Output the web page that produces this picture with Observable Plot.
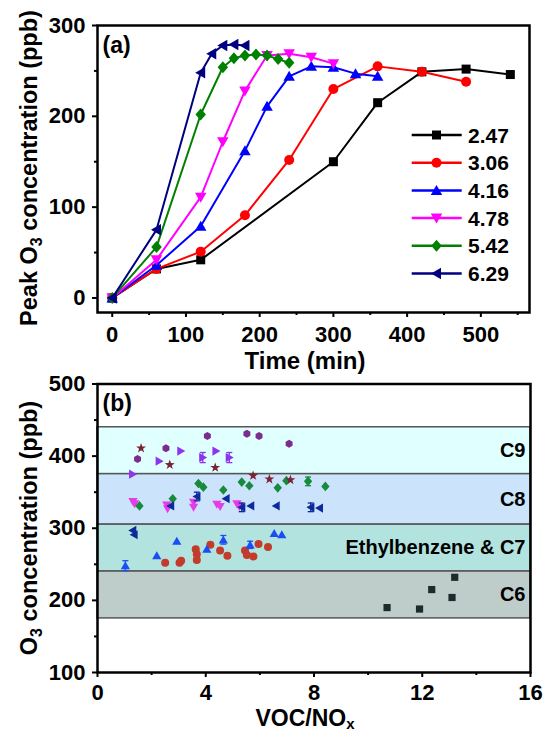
<!DOCTYPE html>
<html><head><meta charset="utf-8">
<script src="https://cdn.jsdelivr.net/npm/d3@7"></script>
<script src="https://cdn.jsdelivr.net/npm/@observablehq/plot@0.6"></script>
<style>
body{margin:0;background:#fff;}
#wrap{position:relative;width:547px;height:733px;overflow:hidden;font-family:'Liberation Sans',Arial,Helvetica,sans-serif;}
#wrap > div{position:absolute;left:0;}
</style></head><body><div id="wrap"><div id="pa" style="top:0"></div><div id="pb" style="top:372px"></div></div>
<script>
// ---------- Panel (a) data ----------
const ratios = ["2.47","3.06","4.16","4.78","5.42","6.29"];
const colorsA = ["#000000","#ff0000","#0000ff","#ff00ff","#008000","#000080"];
const t247 = [0,60,120,300,360,420,480,540];
const o247 = [0,32,42,150,215,249,252,246];
const t306 = [0,60,120,180,240,300,360,420,480];
const o306 = [0,32,51,91,152,230,255,249,238];
const t416 = [0,60,120,180,210,240,270,300,330,360];
const o416 = [0,36,79,162,211,244,255,254,247,244];
const t478 = [0,60,120,150,180,210,240,270,300];
const o478 = [0,42,111,172,228,267,269,265,258];
const t542 = [0,60,120,150,165,180,195,210,225,240];
const o542 = [0,56,202,254,264,267,268,267,263,259];
const t629 = [0,60,120,135,150,165,180];
const o629 = [0,75,248,269,278,279,278];
const xTicksA = [0,100,200,300,400,500];
const xMinorA = [50,150,250,350,450,550];
const yTicksA = [0,100,200,300];
const yMinorA = [50,150,250];

// ---------- Panel (b) data ----------
const bandLabels = ["C9","C8","Ethylbenzene & C7","C6"];
const bandLo = [375,305,240,175];
const bandHi = [440,375,305,240];
const bandColors = ["#e0ffff","#cbe3fb","#b3e3df","#bfcdca"];

const sqX = [10.7,11.9,12.35,13.1,13.2];
const sqY = [190,188,215,204,232];
const ciX = [2.5,3.03,3.09,3.63,3.67,3.67,4.17,4.53,4.8,5.45,5.52,5.76,5.95,6.3];
const ciY = [252,252,255,271,264,256,277,269,262,269,263,261,278,274];
const upX = [1.03,2.19,2.93,4.04,4.65,5.64,6.53,6.81];
const upY = [248,262,282,271,284,277,293,291];
const upE = [7,0,0,0,6,5,0,0];
const ltX = [1.3,1.35,2.7,3.67,4.75,5.33,5.66,6.6,7.88,8.2];
const ltY = [297,291,331,344,341,329,331,331,329,328];
const ltE = [0,0,0,6,0,6,0,0,6,0];
const dnX = [1.31,1.37,2.56,2.59,3.55,3.55,4.41,4.53,5.15,5.24];
const dnY = [337,334,332,327,336,329,333,330,334,330];
const diX = [1.55,2.78,3.73,3.91,4.65,5.33,5.61,6.66,6.98,7.78,8.42];
const diY = [331,341,362,357,353,364,359,356,366,365,358];
const diE = [0,0,0,0,0,0,0,0,0,6,0];
const stX = [1.61,2.67,4.35,5.75,6.35,7.13];
const stY = [411,388,384,373,368,367];
const hxX = [1.48,2.53,4.06,5.52,5.97,7.08];
const hxY = [396,411,428,431,428,417];
const rtX = [1.3,2.28,3.08,3.89,4.38,4.87];
const rtY = [375,393,407,398,407,398];
const rtE = [0,0,0,7,0,7];
const xTicksB = [0,4,8,12,16];
const xMinorB = [2,6,10,14];
const yTicksB = [100,200,300,400,500];
const yMinorB = [150,250,350,450];

// ---------- custom symbols ----------
function mk(fn){ return {draw(ctx, size){ const r = Math.sqrt(size/Math.PI); fn(ctx, r); }}; }
const symSquare = mk((c,r)=>{const s=0.9*r; c.rect(-s,-s,2*s,2*s);});
const symCircle = mk((c,r)=>{c.moveTo(r,0); c.arc(0,0,r,0,2*Math.PI);});
const symUp = mk((c,r)=>{c.moveTo(0,-1.1*r); c.lineTo(1.15*r,0.9*r); c.lineTo(-1.15*r,0.9*r); c.closePath();});
const symDown = mk((c,r)=>{c.moveTo(0,1.1*r); c.lineTo(1.15*r,-0.9*r); c.lineTo(-1.15*r,-0.9*r); c.closePath();});
const symLeft = mk((c,r)=>{c.moveTo(-1.1*r,0); c.lineTo(0.9*r,-1.15*r); c.lineTo(0.9*r,1.15*r); c.closePath();});
const symRight = mk((c,r)=>{c.moveTo(1.1*r,0); c.lineTo(-0.9*r,-1.15*r); c.lineTo(-0.9*r,1.15*r); c.closePath();});
const symDiamond = mk((c,r)=>{c.moveTo(0,-1.2*r); c.lineTo(1.05*r,0); c.lineTo(0,1.2*r); c.lineTo(-1.05*r,0); c.closePath();});
const symStar = mk((c,r)=>{const R=1.3*r, q=0.52*r; for(let k=0;k<10;k++){const a=-Math.PI/2+k*Math.PI/5; const rr=k%2?q:R; const px=rr*Math.cos(a), py=rr*Math.sin(a); if(k) c.lineTo(px,py); else c.moveTo(px,py);} c.closePath();});
const symHex = mk((c,r)=>{for(let k=0;k<6;k++){const a=Math.PI/6+k*Math.PI/3; const px=r*Math.cos(a), py=r*Math.sin(a); if(k) c.lineTo(px,py); else c.moveTo(px,py);} c.closePath();});
const symBar = mk((c,r)=>{c.moveTo(-r,0); c.lineTo(r,0);});

const symA = [symSquare,symCircle,symUp,symDown,symDiamond,symLeft];
const font = "'Liberation Sans', Arial, Helvetica, sans-serif";

// ---------- Panel (a) ----------
const times = [t247,t306,t416,t478,t542,t629];
const o3s = [o247,o306,o416,o478,o542,o629];
const seriesMarks = [];
ratios.forEach((name,i)=>{
  const rows = times[i].map((t,j)=>({t, o:o3s[i][j]}));
  seriesMarks.push(Plot.line(rows,{x:"t",y:"o",stroke:colorsA[i],strokeWidth:2}));
  seriesMarks.push(Plot.dot(rows,{x:"t",y:"o",symbol:symA[i],r:5,fill:colorsA[i],stroke:"none"}));
});

const styleCommon = {fontFamily:font,fontSize:"22px",fontWeight:"bold",color:"#000",background:"none",overflow:"visible"};

const plotA = Plot.plot({
  width:547, height:372, marginLeft:97, marginRight:18, marginTop:25, marginBottom:60,
  style: styleCommon,
  x:{domain:[-20,566]}, y:{domain:[-16,300]},
  marks:[
    Plot.axisX({ticks:xTicksA, tickSize:5, tickPadding:9, strokeWidth:2, label:null, tickFormat:d=>String(d)}),
    Plot.axisX({ticks:xMinorA, tickSize:3, strokeWidth:2, label:null, tickFormat:()=>""}),
    Plot.axisY({ticks:yTicksA, tickSize:5, tickPadding:7, strokeWidth:2, label:null, tickFormat:d=>String(d)}),
    Plot.axisY({ticks:yMinorA, tickSize:3, strokeWidth:2, label:null, tickFormat:()=>""}),
    ...seriesMarks,
    Plot.frame({stroke:"#000", strokeWidth:2.5}),
    Plot.text(["(a)"],{text:d=>d, frameAnchor:"top-left", dx:5, dy:11, lineAnchor:"top", textAnchor:"start", fontSize:23, fontWeight:"bold"})
  ]
});
document.getElementById("pa").appendChild(plotA);
{
  const s = d3.select(plotA);
  const g = s.append("g");
  ratios.forEach((name,i)=>{
    const y = 135 + i*27.7;
    g.append("line").attr("x1",411.7).attr("x2",461.7).attr("y1",y).attr("y2",y).attr("stroke",colorsA[i]).attr("stroke-width",2.5);
    g.append("path").attr("d", d3.symbol(symA[i], 25*Math.PI)()).attr("transform",`translate(436.5,${y})`).attr("fill",colorsA[i]);
    g.append("text").attr("x",468).attr("y",y+7.5).attr("text-anchor","start").attr("font-size",21).attr("font-weight","bold").attr("fill","#000").text(name);
  });
  const yt = s.append("text").attr("transform","translate(37,168) rotate(-90)").attr("text-anchor","middle").attr("font-size",23.5).attr("font-weight","bold").attr("fill","#000");
  yt.append("tspan").text("Peak O");
  yt.append("tspan").attr("dy",5).attr("font-size",16).text("3");
  yt.append("tspan").attr("dy",-5).text(" concentration (ppb)");
  s.append("text").attr("x",305).attr("y",369).attr("text-anchor","middle").attr("font-size",24).attr("font-weight","bold").attr("fill","#000").text("Time (min)");
}

// ---------- Panel (b) ----------
const bands = bandLabels.map((label,i)=>({label, lo:bandLo[i], hi:bandHi[i], fill:bandColors[i]}));
const xDomB = [0,16], yDomB = [100,500];
function grp(xs,ys,es){ return xs.map((x,i)=>({x, y:ys[i], e: es ? es[i] : 0})); }
const groups = [
  {d:grp(sqX,sqY), sym:symSquare, color:"#1c2b2b"},
  {d:grp(ciX,ciY), sym:symCircle, color:"#c23b2b"},
  {d:grp(upX,upY,upE), sym:symUp, color:"#1a4ef5"},
  {d:grp(dnX,dnY), sym:symDown, color:"#e53be8"},
  {d:grp(diX,diY,diE), sym:symDiamond, color:"#178a3e"},
  {d:grp(ltX,ltY,ltE), sym:symLeft, color:"#0b2a9c"},
  {d:grp(stX,stY), sym:symStar, color:"#7b2234"},
  {d:grp(hxX,hxY), sym:symHex, color:"#7b2c8c"},
  {d:grp(rtX,rtY,rtE), sym:symRight, color:"#8c34f0"}
];
const marksB = [];
groups.forEach(g=>{
  const ed = g.d.filter(p=>p.e>0);
  if (ed.length){
    marksB.push(Plot.ruleX(ed,{x:"x", y1:p=>p.y-p.e, y2:p=>p.y+p.e, stroke:g.color, strokeWidth:1.3}));
    const caps = ed.flatMap(p=>[{x:p.x,y:p.y-p.e},{x:p.x,y:p.y+p.e}]);
    marksB.push(Plot.dot(caps,{x:"x", y:"y", symbol:symBar, r:3, stroke:g.color, strokeWidth:1.3, fill:"none"}));
  }
  marksB.push(Plot.dot(g.d,{x:"x", y:"y", symbol:g.sym, r:4, fill:g.color, stroke:"none"}));
});

const plotB = Plot.plot({
  width:547, height:361, marginLeft:97, marginRight:17, marginTop:11.5, marginBottom:61,
  style: styleCommon,
  x:{domain:xDomB}, y:{domain:yDomB},
  marks:[
    Plot.rect(bands,{x1:xDomB[0], x2:xDomB[1], y1:"lo", y2:"hi", fill:"fill", stroke:"#555", strokeWidth:1.5}),
    Plot.text(bands,{x:xDomB[1], y:d=>(d.lo+d.hi)/2, text:"label", textAnchor:"end", dx:-5, fontSize:20, fontWeight:"bold", fill:"#000"}),
    Plot.axisX({ticks:xTicksB, tickSize:5, tickPadding:7, strokeWidth:2, label:null, tickFormat:d=>String(d)}),
    Plot.axisX({ticks:xMinorB, tickSize:3, strokeWidth:2, label:null, tickFormat:()=>""}),
    Plot.axisY({ticks:yTicksB, tickSize:5, tickPadding:7, strokeWidth:2, label:null, tickFormat:d=>String(d)}),
    Plot.axisY({ticks:yMinorB, tickSize:3, strokeWidth:2, label:null, tickFormat:()=>""}),
    ...marksB,
    Plot.frame({stroke:"#000", strokeWidth:2.5}),
    Plot.text(["(b)"],{text:d=>d, frameAnchor:"top-left", dx:5, dy:11, lineAnchor:"top", textAnchor:"start", fontSize:23, fontWeight:"bold"})
  ]
});
document.getElementById("pb").appendChild(plotB);
{
  const s = d3.select(plotB);
  const yt = s.append("text").attr("transform","translate(37,156) rotate(-90)").attr("text-anchor","middle").attr("font-size",23.5).attr("font-weight","bold").attr("fill","#000");
  yt.append("tspan").text("O");
  yt.append("tspan").attr("dy",5).attr("font-size",16).text("3");
  yt.append("tspan").attr("dy",-5).text(" concentration (ppb)");
  const xt = s.append("text").attr("x",305).attr("y",354).attr("text-anchor","middle").attr("font-size",23).attr("font-weight","bold").attr("fill","#000");
  xt.append("tspan").text("VOC/NO");
  xt.append("tspan").attr("dy",3).attr("font-size",15).text("x");
}
</script></body></html>
